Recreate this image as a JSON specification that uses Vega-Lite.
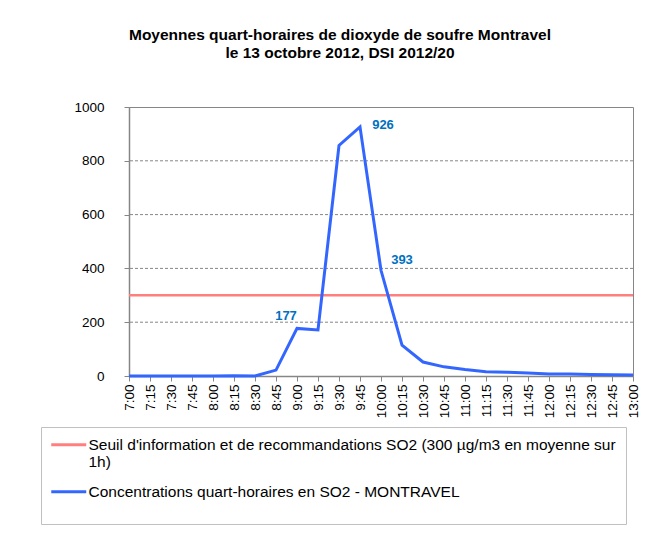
{
  "$schema": "https://vega.github.io/schema/vega-lite/v6.json",
  "width": 504,
  "height": 269,
  "padding": {"left": 40, "top": 27, "right": 10, "bottom": 5},
  "background": "white",
  "config": {
    "font": "Liberation Sans",
    "view": {"stroke": "#868686", "strokeWidth": 1},
    "axis": {"labelFont": "Liberation Sans", "labelFontSize": 13.5, "labelColor": "#000000", "domainColor": "#868686", "tickColor": "#868686", "domainWidth": 1.5, "tickWidth": 1, "labelOverlap": false, "labelBound": false},
    "axisY": {"labelOverlap": false},
    "axisLeft": {"labelOverlap": false},
    "axisQuantitative": {"labelOverlap": false, "tickCount": 10}
  },
  "title": {
    "text": ["Moyennes quart-horaires de dioxyde de soufre Montravel", "le 13 octobre 2012, DSI 2012/20"],
    "font": "Liberation Sans",
    "fontSize": 15.5,
    "fontWeight": "bold",
    "color": "#000000",
    "lineHeight": 18,
    "anchor": "middle",
    "dx": -41,
    "offset": 39
  },
  "datasets": {
    "so2": [
      {"t": "7:00", "v": 0}, {"t": "7:15", "v": 0}, {"t": "7:30", "v": 0}, {"t": "7:45", "v": 0},
      {"t": "8:00", "v": 0}, {"t": "8:15", "v": 1}, {"t": "8:30", "v": 0}, {"t": "8:45", "v": 22},
      {"t": "9:00", "v": 177}, {"t": "9:15", "v": 171}, {"t": "9:30", "v": 857}, {"t": "9:45", "v": 926},
      {"t": "10:00", "v": 393}, {"t": "10:15", "v": 115}, {"t": "10:30", "v": 52}, {"t": "10:45", "v": 34},
      {"t": "11:00", "v": 24}, {"t": "11:15", "v": 16}, {"t": "11:30", "v": 14}, {"t": "11:45", "v": 11},
      {"t": "12:00", "v": 7}, {"t": "12:15", "v": 7}, {"t": "12:30", "v": 6}, {"t": "12:45", "v": 5},
      {"t": "13:00", "v": 4}
    ],
    "grid": [{"v": 200}, {"v": 400}, {"v": 600}, {"v": 800}],
    "seuil": [{"v": 300}]
  },
  "encoding": {
    "y": {"field": "v", "type": "quantitative", "scale": {"domain": [0, 1000], "nice": false},
      "axis": {"title": null, "values": [0, 100, 200, 300, 400, 500, 600, 700, 800, 900, 1000], "tickCount": 10, "labelExpr": "format(datum.value, 'd')", "grid": false, "tickSize": 5, "labelPadding": 20, "labelOverlap": false, "labelBound": false, "labelFlush": false}}
  },
  "layer": [
    {
      "data": {"name": "grid"},
      "mark": {"type": "rule", "color": "#868686", "strokeDash": [3, 2], "strokeWidth": 1}
    },
    {
      "data": {"name": "seuil"},
      "mark": {"type": "rule", "strokeWidth": 2.5},
      "encoding": {
        "color": {"datum": "Seuil d'information et de recommandations SO2 (300 µg/m3 en moyenne sur 1h)"}
      }
    },
    {
      "data": {"name": "so2"},
      "mark": {"type": "line", "strokeWidth": 3, "strokeJoin": "miter"},
      "encoding": {
        "x": {"field": "t", "type": "ordinal", "sort": null, "scale": {"type": "point", "padding": 0},
              "axis": {"title": null, "labelAngle": -90, "tickSize": 5, "labelPadding": 3, "grid": false}},
        "color": {
          "datum": "Concentrations quart-horaires en SO2 - MONTRAVEL",
          "scale": {
            "domain": ["Seuil d'information et de recommandations SO2 (300 µg/m3 en moyenne sur 1h)", "Concentrations quart-horaires en SO2 - MONTRAVEL"],
            "range": ["#FF7F7F", "#3366FF"]
          },
          "legend": {
            "title": " ",
            "titleOrient": "bottom",
            "titleFontSize": 8,
            "titlePadding": 6,
            "orient": "none",
            "legendX": -88,
            "legendY": 320,
            "direction": "vertical",
            "symbolType": "M-3,0H3",
            "symbolSize": 136,
            "symbolStrokeWidth": 3,
            "symbolOffset": 10,
            "labelFont": "Liberation Sans",
            "labelFontSize": 15.5,
            "labelColor": "#000000",
            "labelLimit": 800,
            "labelOffset": 12,
            "labelBaseline": "middle",
            "padding": 10,
            "rowPadding": 13,
            "strokeColor": "#C0C0C0",
            "labelExpr": "datum.label == 'Seuil d\\'information et de recommandations SO2 (300 µg/m3 en moyenne sur 1h)' ? ['Seuil d\\'information et de recommandations SO2 (300 µg/m3 en moyenne sur', '1h)'] : datum.label"
          }
        }
      }
    },
    {
      "data": {"name": "so2"},
      "transform": [{"filter": "datum.t == '9:00'"}],
      "mark": {"type": "text", "font": "Liberation Sans", "fontSize": 13, "fontWeight": "bold", "color": "#0070C0", "dx": -11, "dy": -12},
      "encoding": {"x": {"field": "t", "type": "ordinal", "sort": null}, "text": {"field": "v", "type": "quantitative"}}
    },
    {
      "data": {"name": "so2"},
      "transform": [{"filter": "datum.t == '9:45'"}],
      "mark": {"type": "text", "font": "Liberation Sans", "fontSize": 13, "fontWeight": "bold", "color": "#0070C0", "dx": 23, "dy": -2},
      "encoding": {"x": {"field": "t", "type": "ordinal", "sort": null}, "text": {"field": "v", "type": "quantitative"}}
    },
    {
      "data": {"name": "so2"},
      "transform": [{"filter": "datum.t == '10:00'"}],
      "mark": {"type": "text", "font": "Liberation Sans", "fontSize": 13, "fontWeight": "bold", "color": "#0070C0", "dx": 21, "dy": -10},
      "encoding": {"x": {"field": "t", "type": "ordinal", "sort": null}, "text": {"field": "v", "type": "quantitative"}}
    }
  ]
}
